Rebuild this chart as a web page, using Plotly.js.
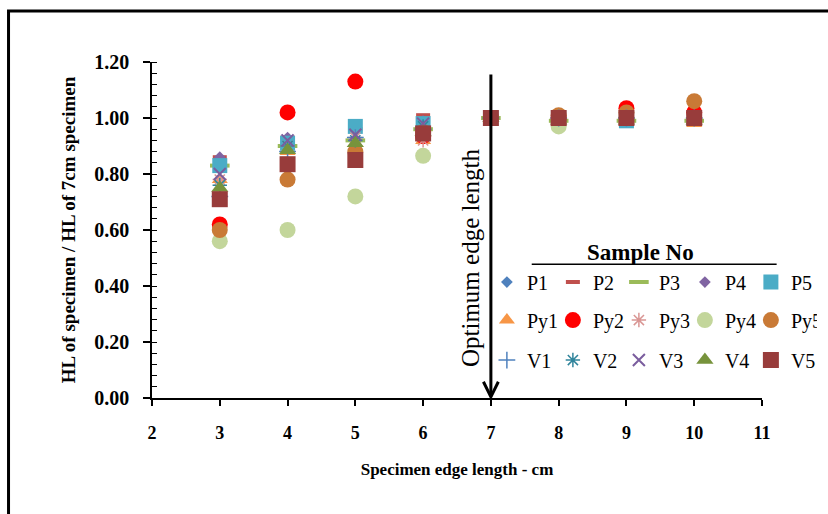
<!DOCTYPE html>
<html>
<head>
<meta charset="utf-8">
<script src="https://cdn.plot.ly/plotly-3.0.1.min.js"></script>
<style>html,body{margin:0;padding:0;background:#fff;}#chart{width:828px;height:514px;}</style>
</head>
<body>
<div id="chart"></div>
<script>
// ---- data ----
const edgeLengths = [3, 4, 5, 6, 7, 8, 9, 10];
const seriesNames = ['P1','P2','P3','P4','P5','Py1','Py2','Py3','Py4','Py5','V1','V2','V3','V4','V5'];
const P1  = [0.82, 0.92, 0.95, 0.98, 1.00, 1.00, 1.00, 1.00];
const P2  = [0.86, 0.93, 0.96, 1.01, 1.00, 1.00, 1.00, 1.00];
const P3  = [0.83, 0.90, 0.92, 0.96, 1.00, 0.99, 0.99, 0.99];
const P4  = [0.86, 0.93, 0.96, 0.99, 1.00, 1.00, 1.00, 1.00];
const P5  = [0.83, 0.91, 0.97, 0.98, 1.00, 1.00, 0.99, 1.00];
const Py1 = [0.78, 0.88, 0.91, 0.92, 1.00, 0.99, 1.00, 0.98];
const Py2 = [0.62, 1.02, 1.13, 0.935, 1.00, 1.00, 1.035, 1.02];
const Py3 = [0.78, 0.90, 0.93, 0.92, 1.00, 1.00, 1.00, 1.00];
const Py4 = [0.56, 0.60, 0.72, 0.865, 1.00, 0.97, 1.00, 1.00];
const Py5 = [0.60, 0.78, 0.88, 0.95, 1.00, 1.01, 1.02, 1.06];
const V1  = [0.72, 0.88, 0.93, 0.96, 1.00, 1.00, 1.00, 1.00];
const V2  = [0.76, 0.90, 0.92, 0.97, 1.00, 1.00, 1.00, 1.00];
const V3  = [0.80, 0.92, 0.94, 0.98, 1.00, 1.00, 1.00, 1.00];
const V4  = [0.75, 0.885, 0.91, 0.95, 1.00, 0.99, 0.99, 0.99];
const V5  = [0.71, 0.835, 0.85, 0.945, 1.00, 1.00, 1.00, 1.00];
const seriesValues = [P1,P2,P3,P4,P5,Py1,Py2,Py3,Py4,Py5,V1,V2,V3,V4,V5];
const xTickVals = [2,3,4,5,6,7,8,9,10,11];

// ---- styles ----
const styles = [
  {symbol:'diamond', size:9, color:'#4F81BD'},
  {symbol:'line-ew', size:10, color:'#C0504D', lw:4},
  {symbol:'line-ew', size:14, color:'#9BBB59', lw:4},
  {symbol:'diamond', size:9, color:'#8064A2'},
  {symbol:'square', size:15, color:'#4BACC6'},
  {symbol:'triangle-up', size:14, color:'#F79646'},
  {symbol:'circle', size:16, color:'#FF0000'},
  {symbol:'asterisk-open', size:12, color:'#D99694', lw:1.5},
  {symbol:'circle', size:16, color:'#C3D69B'},
  {symbol:'circle', size:16, color:'#C97A36'},
  {symbol:'cross-thin-open', size:12, color:'#4F81BD', lw:1.5},
  {symbol:'asterisk-open', size:12, color:'#31859C', lw:1.5},
  {symbol:'x-thin-open', size:12, color:'#7A5D9E', lw:2},
  {symbol:'triangle-up', size:15, color:'#77933C'},
  {symbol:'square', size:16, color:'#983C3B'}
];
const legendIds = ['legend','legend','legend','legend','legend',
  'legend2','legend2','legend2','legend2','legend2',
  'legend3','legend3','legend3','legend3','legend3'];

const traces = seriesNames.map((name, i) => {
  const s = styles[i];
  const open = s.lw !== undefined;
  return {
    type:'scatter', mode:'markers', name:name,
    x: edgeLengths, y: seriesValues[i],
    legend: legendIds[i],
    marker: {
      symbol: s.symbol, size: s.size, color: s.color,
      line: open ? {color: s.color, width: s.lw} : {width: 0}
    },
    hoverinfo:'x+y+name'
  };
});

const serif = '"Liberation Serif", "Times New Roman", serif';
const legendCommon = {
  orientation:'h', x:0.549, xanchor:'left', yanchor:'middle',
  bgcolor:'rgba(0,0,0,0)', font:{family:serif, size:20, color:'#000'},
  entrywidth:21, itemwidth:30, traceorder:'normal'
};

const layout = {
  width:828, height:514,
  margin:{l:152, r:66, t:62, b:116, autoexpand:false},
  paper_bgcolor:'#fff', plot_bgcolor:'#fff',
  font:{family:serif, color:'#000'},
  showlegend:true,
  legend: Object.assign({}, legendCommon, {y:0.345}),
  legend2: Object.assign({}, legendCommon, {y:0.232}),
  legend3: Object.assign({}, legendCommon, {y:0.113}),
  xaxis:{
    range:[2,11], tickvals:xTickVals, showgrid:false, zeroline:false,
    showline:true, linecolor:'#000', linewidth:1.5,
    ticks:'outside', ticklen:6, tickwidth:1.5, tickcolor:'#000',
    ticklabelstandoff:12,
    tickfont:{family:serif, size:18, color:'#000', weight:'bold'},
    title:{text:'<b>Specimen edge length - cm</b>', font:{family:serif, size:17, color:'#000'}, standoff:21}
  },
  yaxis:{
    range:[0,1.2], dtick:0.2, tick0:0, tickformat:'.2f', showgrid:false, zeroline:false,
    showline:true, linecolor:'#000', linewidth:1.5,
    ticks:'outside', ticklen:7, tickwidth:1.5, tickcolor:'#000',
    ticklabelstandoff:10,
    minor:{dtick:0.04, ticks:'inside', ticklen:5, tickwidth:1, tickcolor:'#000', showgrid:false},
    tickfont:{family:serif, size:20, color:'#000', weight:'bold'},
    title:{text:'<b>HL of specimen / HL of 7cm specimen</b>', font:{family:serif, size:19, color:'#000'}, standoff:14}
  },
  shapes:[
    {type:'rect', xref:'paper', yref:'paper', x0:-0.2352, x1:1.3, y0:-0.6, y1:1.1518,
     line:{color:'#000', width:3}, fillcolor:'rgba(0,0,0,0)', layer:'below'},
    {type:'line', xref:'x', yref:'y', x0:7, x1:7, y0:1.155, y1:0.006, line:{color:'#000', width:3}},
    {type:'path', xref:'x', yref:'y', path:'M6.89,0.058 L7,0.004 L7.11,0.058', line:{color:'#000', width:3}},
    {type:'line', xref:'paper', yref:'paper', x0:0.6225, x1:1.024, y0:0.398, y1:0.398, line:{color:'#000', width:1.5}}
  ],
  annotations:[
    {xref:'x', yref:'y', x:6.69, y:0.503, text:'Optimum edge length', textangle:-90, showarrow:false,
     font:{family:serif, size:25, color:'#000'}},
    {xref:'paper', yref:'paper', x:0.8, y:0.4345, xanchor:'center', yanchor:'middle', text:'<b>Sample No</b>', showarrow:false,
     font:{family:serif, size:23, color:'#000'}}
  ]
};

Plotly.newPlot('chart', traces, layout, {displayModeBar:false});
</script>
</body>
</html>
